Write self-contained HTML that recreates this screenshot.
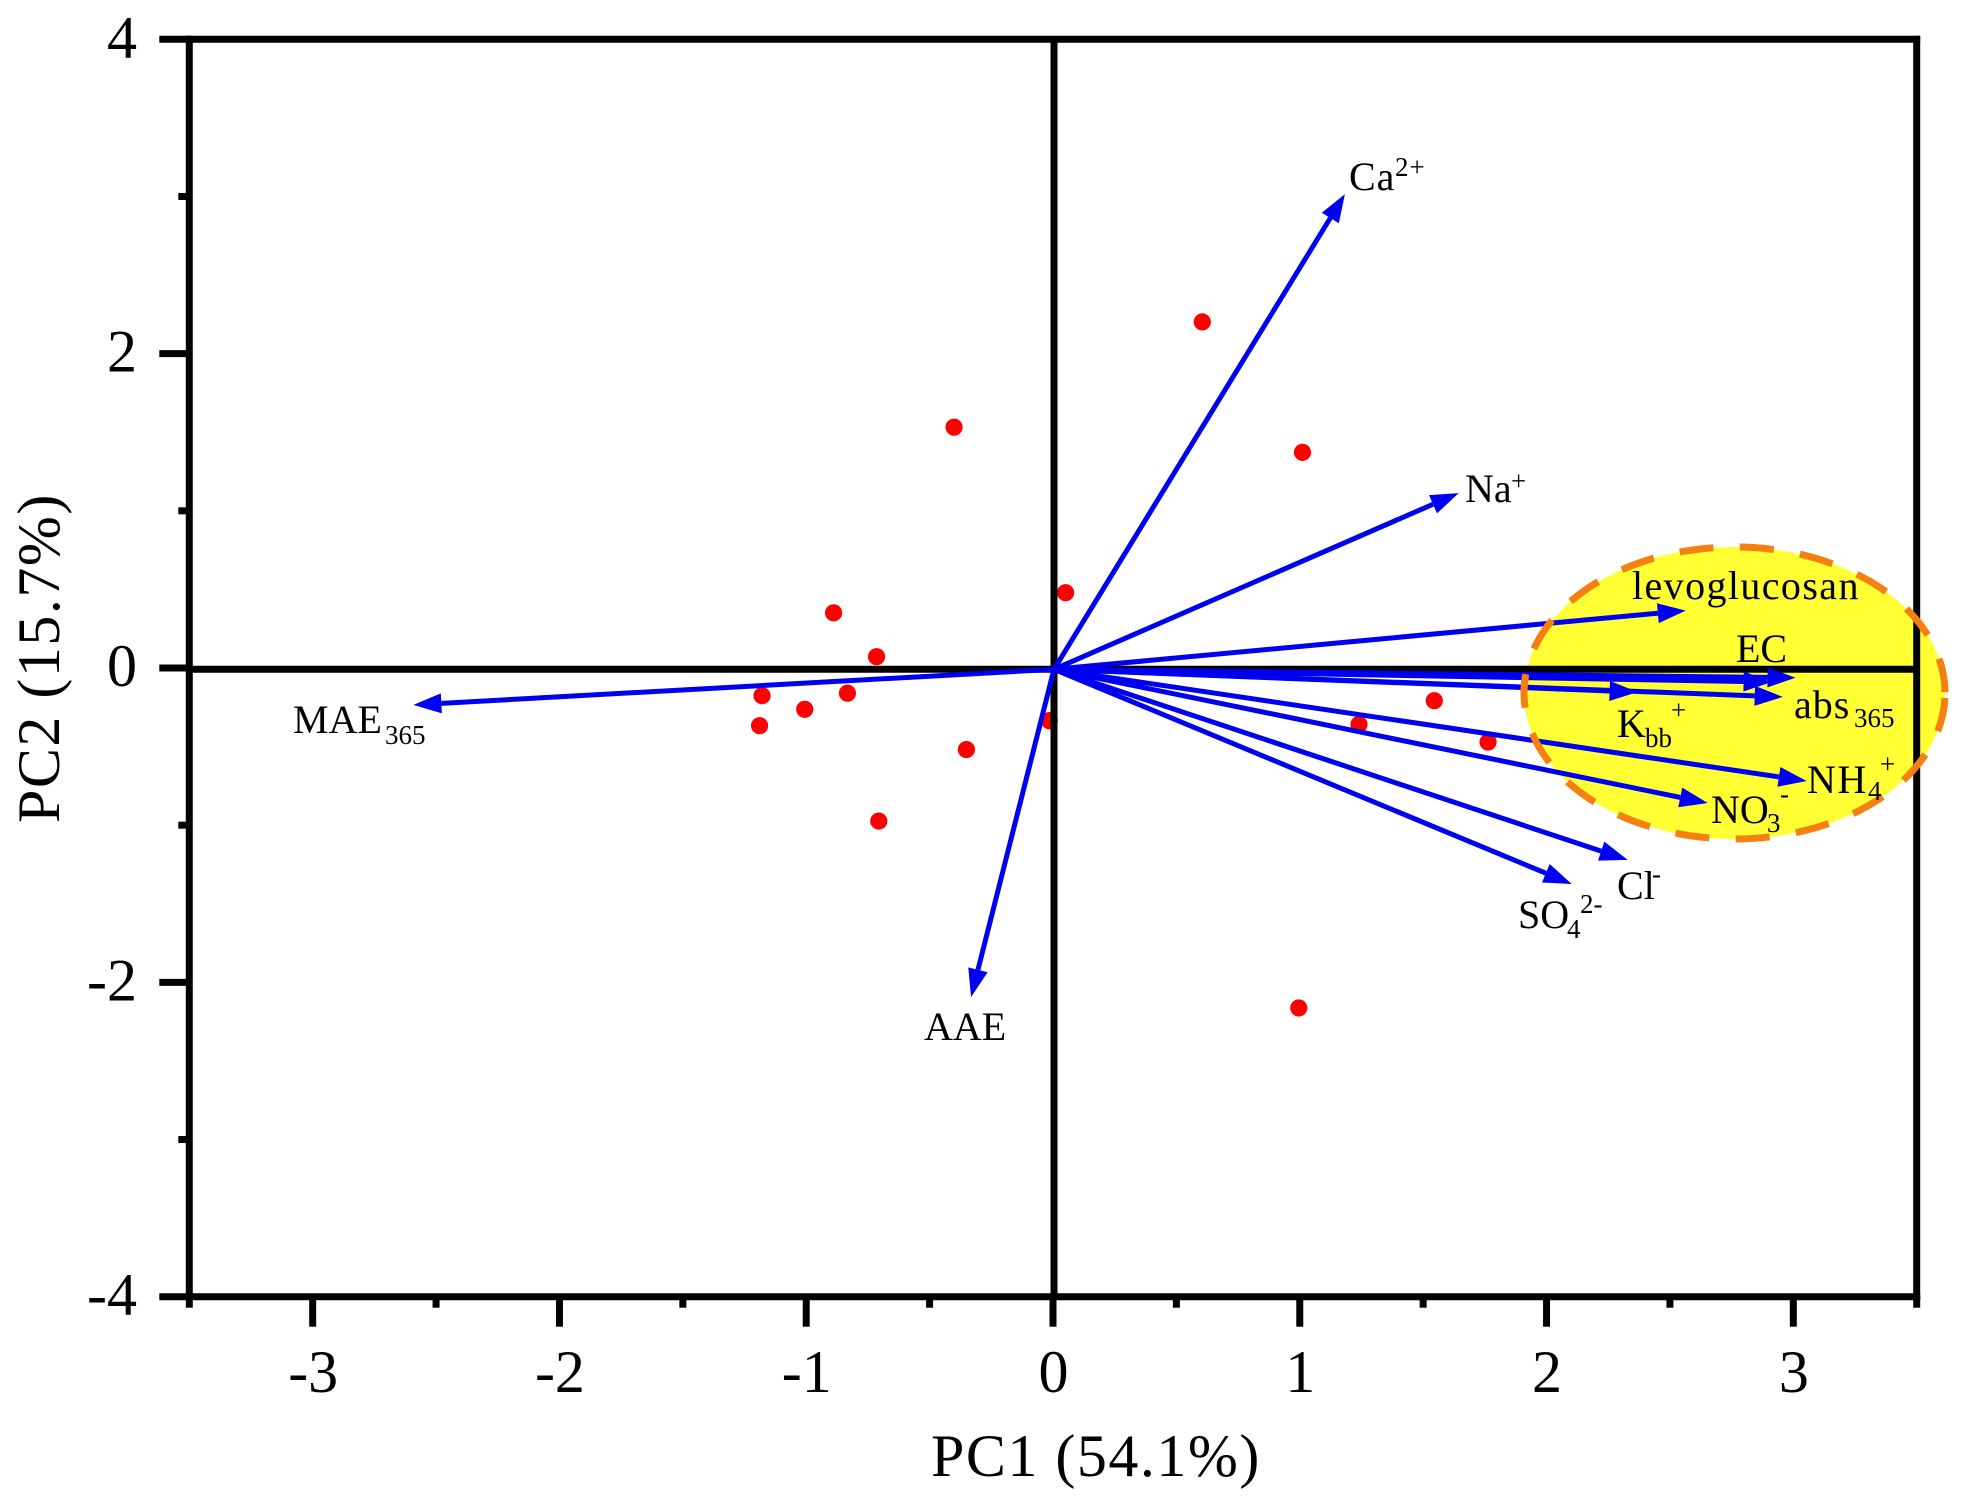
<!DOCTYPE html>
<html lang="en">
<head>
<meta charset="utf-8">
<title>PCA biplot</title>
<style>
html,body{margin:0;padding:0;background:#fff;}
svg{display:block;}
text{font-family:"Liberation Serif",serif;fill:#000;}
.tick{font-size:60px;}
.title{font-size:60px;letter-spacing:1.5px;}
.lab{font-size:40px;}
.sm{font-size:27px;}
</style>
</head>
<body>
<svg id="chart" width="1967" height="1507" viewBox="0 0 1967 1507" xmlns="http://www.w3.org/2000/svg">
  <rect width="1967" height="1507" fill="#fff"/>
  <ellipse cx="1734.5" cy="693" rx="210.5" ry="146" fill="#ffff33"/>
  <g id="points"></g>
  <g id="axes"></g>
  <g id="arrows"></g>
  <ellipse cx="1734.5" cy="693" rx="210.5" ry="146" fill="none" stroke="#f5800f" stroke-width="7" stroke-dasharray="34 26.5" stroke-dashoffset="-5"/>
  <g id="ticklabels"></g>

  <text class="title" x="931" y="1476">PC1 (54.1%)</text>
  <text class="title" transform="translate(59,823) rotate(-90)" x="0" y="0">PC2 (15.7%)</text>

  <g>
    <text class="lab" x="1349" y="190" style="letter-spacing:1px">Ca</text><text class="sm" x="1395" y="176" style="letter-spacing:1px">2+</text>
  </g>
  <g>
    <text class="lab" x="1465" y="502">Na</text><text class="sm" x="1511" y="490">+</text>
  </g>
  <g>
    <text class="lab" x="1632" y="599" style="letter-spacing:1.4px">levoglucosan</text>
  </g>
  <g>
    <text class="lab" x="1736" y="662">EC</text>
  </g>
  <g>
    <text class="lab" x="1794" y="718" style="letter-spacing:1px">abs</text><text class="sm" x="1854" y="727">365</text>
  </g>
  <g>
    <text class="lab" x="1617" y="737">K</text><text class="sm" x="1645" y="747">bb</text><text class="sm" x="1671" y="719">+</text>
  </g>
  <g>
    <text class="lab" x="1807" y="793" style="letter-spacing:1.5px">NH</text><text class="sm" x="1868" y="800">4</text><text class="sm" x="1880" y="773">+</text>
  </g>
  <g>
    <text class="lab" x="1711" y="823">NO</text><text class="sm" x="1767" y="832">3</text><text class="sm" x="1780" y="803">-</text>
  </g>
  <g>
    <text class="lab" x="1617" y="899">Cl</text><text class="sm" x="1652" y="883">-</text>
  </g>
  <g>
    <text class="lab" x="1518" y="928">SO</text><text class="sm" x="1567" y="938">4</text><text class="sm" x="1580" y="913">2-</text>
  </g>
  <g>
    <text class="lab" x="293" y="733">MAE</text><text class="sm" x="385" y="744">365</text>
  </g>
  <g>
    <text class="lab" x="924" y="1040">AAE</text>
  </g>
</svg>
<script>
const xTickValues = [-3, -2, -1, 0, 1, 2, 3];
const xMinorValues = [-3.5, -2.5, -1.5, -0.5, 0.5, 1.5, 2.5, 3.5];
const yTickValues = [-4, -2, 0, 2, 4];
const yMinorValues = [-3, -1, 1, 3];

const arrowNames = ['ca', 'na', 'levoglucosan', 'ec', 'unlabeled', 'abs365', 'kbb', 'nh4', 'no3', 'cl', 'so4', 'mae365', 'aae'];
const loadingPC1 = [1.183, 1.644, 2.564, 3.009, 2.912, 2.957, 2.369, 3.054, 2.653, 2.329, 2.102, -2.592, -0.332];
const loadingPC2 = [3.015, 1.113, 0.365, -0.062, -0.089, -0.184, -0.153, -0.719, -0.859, -1.221, -1.374, -0.235, -2.093];

const scorePC1 = [0.605, 1.011, -0.401, 0.051, -0.889, -0.715, -1.179, -0.833, -1.006, -1.189, -0.351, -0.706, -0.015, 1.24, 1.545, 1.763, 0.996];
const scorePC2 = [2.202, 1.372, 1.532, 0.479, 0.351, 0.072, -0.176, -0.16, -0.263, -0.367, -0.519, -0.974, -0.335, -0.359, -0.208, -0.471, -2.163];

const NS = 'http://www.w3.org/2000/svg';
const plotLeft = 189.3, plotRight = 1916.7, plotTop = 39.3, plotBottom = 1296.7;
const xMin = -3.5, xMax = 3.5, yMin = -4, yMax = 4;
const zeroNudgeX = 1, zeroNudgeY = 1.3;
function xScale(v) { return plotLeft + (v - xMin) / (xMax - xMin) * (plotRight - plotLeft); }
function yScale(v) { return plotBottom - (v - yMin) / (yMax - yMin) * (plotBottom - plotTop); }

function blackLine(parent, x1, y1, x2, y2, name) {
  const el = document.createElementNS(NS, 'line');
  el.setAttribute('x1', x1);
  el.setAttribute('y1', y1);
  el.setAttribute('x2', x2);
  el.setAttribute('y2', y2);
  el.setAttribute('stroke', '#000');
  el.setAttribute('stroke-width', 7);
  
  
  parent.appendChild(el);
}

function tickText(parent, x, y, anchor, str, name) {
  const el = document.createElementNS(NS, 'text');
  el.setAttribute('class', 'tick');
  el.setAttribute('x', x);
  el.setAttribute('y', y);
  el.setAttribute('text-anchor', anchor);
  el.textContent = str;
  
  
  parent.appendChild(el);
}

const pointsG = document.getElementById('points');
scorePC1.forEach(function (v, i) {
  const c = document.createElementNS(NS, 'circle');
  c.setAttribute('cx', xScale(v));
  c.setAttribute('cy', yScale(scorePC2[i]));
  c.setAttribute('r', 8.6);
  c.setAttribute('fill', '#ff0000');
  
  
  pointsG.appendChild(c);
});

const axesG = document.getElementById('axes');
const halfW = 3.5;
blackLine(axesG, plotLeft - halfW, plotTop, plotRight + halfW, plotTop, 'top-spine');
blackLine(axesG, plotLeft - halfW, plotBottom, plotRight + halfW, plotBottom, 'bottom-spine');
blackLine(axesG, plotLeft, plotTop - halfW, plotLeft, plotBottom + halfW, 'left-spine');
blackLine(axesG, plotRight, plotTop - halfW, plotRight, plotBottom + halfW, 'right-spine');
blackLine(axesG, plotLeft, yScale(0) + zeroNudgeY, plotRight, yScale(0) + zeroNudgeY, 'zero-line-horizontal');
blackLine(axesG, xScale(0) + zeroNudgeX, plotTop, xScale(0) + zeroNudgeX, plotBottom, 'zero-line-vertical');

const labelsG = document.getElementById('ticklabels');
xTickValues.forEach(function (v) {
  blackLine(axesG, xScale(v), plotBottom, xScale(v), plotBottom + 30, 'x-major-tick');
  tickText(labelsG, xScale(v) + 0.5, 1392, 'middle', String(v), 'x-tick-label');
});
xMinorValues.forEach(function (v) {
  blackLine(axesG, xScale(v), plotBottom, xScale(v), plotBottom + 11, 'x-minor-tick');
});
yTickValues.forEach(function (v) {
  blackLine(axesG, plotLeft, yScale(v), plotLeft - 30, yScale(v), 'y-major-tick');
  tickText(labelsG, 137, yScale(v) + 18, 'end', String(v), 'y-tick-label');
});
yMinorValues.forEach(function (v) {
  blackLine(axesG, plotLeft, yScale(v), plotLeft - 11, yScale(v), 'y-minor-tick');
});

const arrowsG = document.getElementById('arrows');
const headLen = 28, headHalf = 10;
arrowNames.forEach(function (name, i) {
  const x0 = xScale(0) + zeroNudgeX, y0 = yScale(0) + zeroNudgeY;
  const x1 = xScale(loadingPC1[i]), y1 = yScale(loadingPC2[i]);
  const len = Math.hypot(x1 - x0, y1 - y0);
  const ux = (x1 - x0) / len, uy = (y1 - y0) / len;
  const bx = x1 - ux * headLen, by = y1 - uy * headLen;

  const g = document.createElementNS(NS, 'g');
  
  

  const shaft = document.createElementNS(NS, 'line');
  shaft.setAttribute('x1', x0);
  shaft.setAttribute('y1', y0);
  shaft.setAttribute('x2', bx);
  shaft.setAttribute('y2', by);
  shaft.setAttribute('stroke', '#0000f0');
  shaft.setAttribute('stroke-width', 5);
  
  
  g.appendChild(shaft);

  const head = document.createElementNS(NS, 'polygon');
  head.setAttribute('points', [
    x1 + ',' + y1,
    (bx - uy * headHalf) + ',' + (by + ux * headHalf),
    (bx + uy * headHalf) + ',' + (by - ux * headHalf)
  ].join(' '));
  head.setAttribute('fill', '#0000f0');
  
  
  g.appendChild(head);

  arrowsG.appendChild(g);
});
</script>
</body>
</html>
